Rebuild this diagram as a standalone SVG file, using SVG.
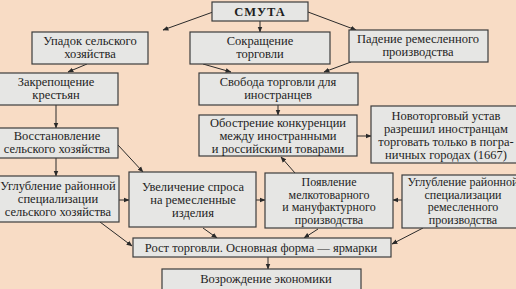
<svg xmlns="http://www.w3.org/2000/svg" width="516" height="289" viewBox="0 0 516 289" font-family="Liberation Serif, Times New Roman, serif">
<defs>
<marker id="ah" viewBox="0 0 10 10" refX="9" refY="5" markerWidth="6" markerHeight="6" orient="auto" markerUnits="userSpaceOnUse">
<path d="M0,1 L10,5 L0,9 z" fill="#2a2a2a"/>
</marker>
<style>
.bg{fill:#f8dcc5}
.box{fill:#e6e6e4;stroke:#3c3c3c;stroke-width:1.2}
.t{font-family:'Liberation Serif','Times New Roman',serif;font-size:12.5px;fill:#1e1e1e;text-anchor:middle}
.s{font-size:12px}
.c{stroke:#2a2a2a;stroke-width:1;fill:none;marker-end:url(#ah)}
</style>
</defs>
<rect class="bg" x="0" y="0" width="516" height="289"/>
<g id="connectors">
<line class="c" x1="213" y1="12" x2="163" y2="30"/>
<line class="c" x1="260" y1="21" x2="260" y2="32"/>
<line class="c" x1="308" y1="12" x2="356" y2="30"/>
<line class="c" x1="87" y1="64" x2="68" y2="72"/>
<line class="c" x1="203" y1="64" x2="231" y2="72"/>
<line class="c" x1="351" y1="62" x2="324" y2="72"/>
<line class="c" x1="56" y1="105" x2="56" y2="128"/>
<line class="c" x1="56" y1="158" x2="56" y2="176"/>
<line class="c" x1="118" y1="145" x2="143" y2="172"/>
<line class="c" x1="278" y1="105" x2="278" y2="115"/>
<line class="c" x1="357" y1="136" x2="371" y2="136"/>
<line class="c" x1="295" y1="173" x2="281" y2="157"/>
<line class="c" x1="119" y1="200" x2="129" y2="200"/>
<line class="c" x1="256" y1="200" x2="265" y2="200"/>
<line class="c" x1="402" y1="200" x2="393" y2="200"/>
<line class="c" x1="203" y1="228" x2="217" y2="238"/>
<line class="c" x1="100" y1="222" x2="132" y2="246"/>
<line class="c" x1="318" y1="229" x2="304" y2="238"/>
<line class="c" x1="423" y1="228" x2="392" y2="244"/>
<line class="c" x1="268" y1="257" x2="268" y2="269"/>
</g>
<g id="smuta"><rect class="box" x="212" y="2" width="96" height="19"/><text class="t" x="260" y="16" style="font-weight:bold;letter-spacing:1px">СМУТА</text></g>
<g id="upadok"><rect class="box" x="32" y="32" width="116" height="32"/><text class="t" x="90" y="45">Упадок сельского</text><text class="t" x="90" y="58">хозяйства</text></g>
<g id="sokrashchenie"><rect class="box" x="190" y="32" width="140" height="32"/><text class="t" x="260" y="45">Сокращение</text><text class="t" x="260" y="58">торговли</text></g>
<g id="padenie"><rect class="box" x="349" y="30" width="139" height="32"/><text class="t" x="418" y="43">Падение ремесленного</text><text class="t" x="418" y="56">производства</text></g>
<g id="zakreposhchenie"><rect class="box" x="-1" y="73" width="119" height="32"/><text class="t" x="56" y="86">Закрепощение</text><text class="t" x="56" y="99">крестьян</text></g>
<g id="svoboda"><rect class="box" x="199" y="73" width="159" height="32"/><text class="t" x="278" y="86">Свобода торговли для</text><text class="t" x="278" y="99">иностранцев</text></g>
<g id="vosstanovlenie"><rect class="box" x="-1" y="128" width="119" height="30"/><text class="t" x="57" y="140">Восстановление</text><text class="t" x="57" y="153">сельского хозяйства</text></g>
<g id="obostrenie"><rect class="box" x="199" y="115" width="158" height="41"/><text class="t" x="278" y="127">Обострение конкуренции</text><text class="t" x="278" y="140">между иностранными</text><text class="t" x="278" y="153">и российскими товарами</text></g>
<g id="novotorgovy"><rect class="box" x="371" y="106" width="148" height="57"/><text class="t" x="446" y="120">Новоторговый устав</text><text class="t" x="446" y="133">разрешил иностранцам</text><text class="t" x="446" y="146">торговать только в погра-</text><text class="t" x="446" y="159">ничных городах (1667)</text></g>
<g id="uglublenie-selsk"><rect class="box" x="-1" y="176" width="120" height="46"/><text class="t" x="58" y="190">Углубление районной</text><text class="t" x="58" y="203">специализации</text><text class="t" x="58" y="216">сельского хозяйства</text></g>
<g id="uvelichenie"><rect class="box" x="129" y="172" width="127" height="55"/><text class="t" x="193" y="191">Увеличение спроса</text><text class="t" x="193" y="204">на ремесленные</text><text class="t" x="193" y="217">изделия</text></g>
<g id="poyavlenie"><rect class="box" x="265" y="173" width="128" height="55"/><text class="t s" x="329" y="186">Появление</text><text class="t s" x="329" y="198.5">мелкотоварного</text><text class="t s" x="329" y="211">и мануфактурного</text><text class="t s" x="329" y="223.5">производства</text></g>
<g id="uglublenie-remesl"><rect class="box" x="402" y="175" width="120" height="53"/><text class="t s" x="463" y="186">Углубление районной</text><text class="t s" x="463" y="198.5">специализации</text><text class="t s" x="463" y="211">ремесленного</text><text class="t s" x="463" y="223.5">производства</text></g>
<g id="rost"><rect class="box" x="133" y="238" width="258" height="19"/><text class="t" x="261" y="252">Рост торговли. Основная форма — ярмарки</text></g>
<g id="vozrozhdenie"><rect class="box" x="162" y="269" width="199" height="22"/><text class="t" x="266" y="283">Возрождение экономики</text></g>
</svg>
